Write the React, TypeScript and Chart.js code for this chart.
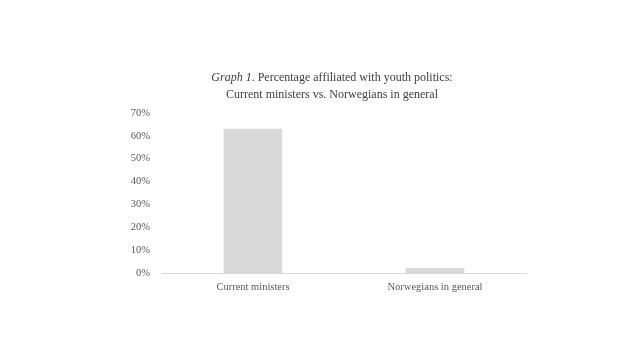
import React, { useEffect, useRef } from "react";
import { Chart, registerables } from "chart.js";

Chart.register(...registerables);

const categories = ["Current ministers", "Norwegians in general"];
const values = [63, 2];
const yTicks = [0, 10, 20, 30, 40, 50, 60, 70];

export default function App() {
  const ref = useRef<HTMLCanvasElement | null>(null);

  useEffect(() => {
    if (!ref.current) return;
    const chart = new Chart(ref.current, {
      type: "bar",
      data: {
        labels: categories,
        datasets: [
          {
            data: values,
            backgroundColor: "#d9d9d9",
            barThickness: 58,
          },
        ],
      },
      options: {
        animation: false,
        responsive: false,
        layout: { padding: { top: 113, right: 114, bottom: 0, left: 0 } },
        plugins: { legend: { display: false }, title: { display: false }, tooltip: { enabled: false } },
        scales: {
          x: {
            grid: { display: false, drawTicks: false },
            border: { display: true, color: "#d9d9d9", width: 1 },
            ticks: {
              color: "#595959",
              padding: 8,
              font: { family: "Liberation Serif", size: 10.5 },
            },
            afterFit: (s: any) => {
              s.height = 87;
            },
          },
          y: {
            min: 0,
            max: 70,
            afterBuildTicks: (s: any) => {
              s.ticks = yTicks.map((v) => ({ value: v }));
            },
            grid: { display: false, drawTicks: false },
            border: { display: false },
            ticks: {
              color: "#595959",
              padding: 12,
              font: { family: "Liberation Serif", size: 10.5 },
              callback: (v: any) => v + "%",
            },
            afterFit: (s: any) => {
              s.width = 162;
            },
          },
        },
      },
    });
    return () => chart.destroy();
  }, []);

  return (
    <div style={{ position: "absolute", left: 0, top: 0, width: 640, height: 360, background: "#fff" }}>
      <canvas ref={ref} width={640} height={360} style={{ display: "block" }} />
      <div
        style={{
          position: "absolute",
          left: 0,
          width: 664,
          top: 69,
          textAlign: "center",
          fontFamily: "Liberation Serif",
          fontSize: 12,
          lineHeight: "17px",
          color: "#404040",
        }}
      >
        <div>
          <i>Graph 1</i>. Percentage affiliated with youth politics:
        </div>
        <div>Current ministers vs. Norwegians in general</div>
      </div>
    </div>
  );
}
